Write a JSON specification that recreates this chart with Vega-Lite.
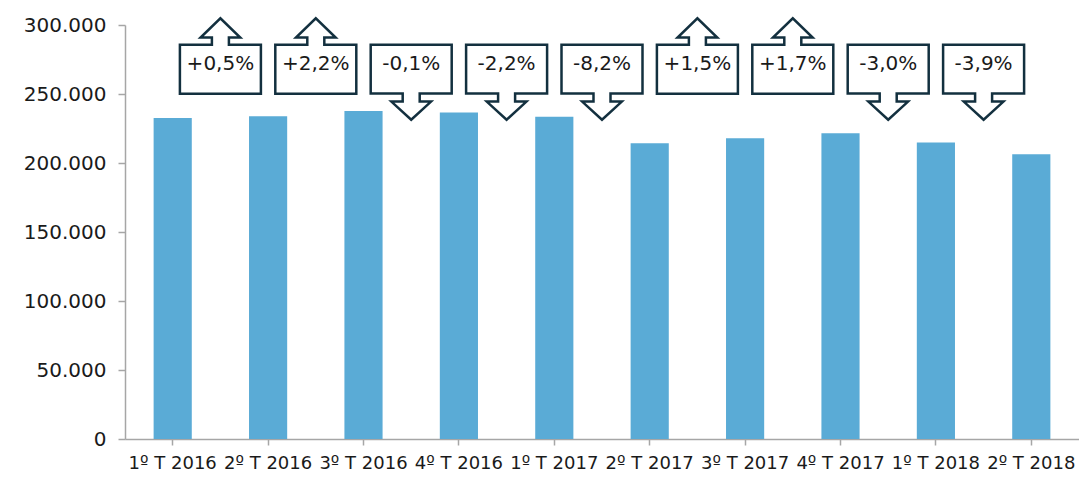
{
  "$schema": "https://vega.github.io/schema/vega-lite/v6.json",
  "width": 954,
  "height": 414,
  "padding": {"left": 125, "top": 25, "right": 0, "bottom": 63},
  "autosize": "none",
  "background": "white",
  "config": {
    "view": {"stroke": null},
    "locale": {"number": {"decimal": ",", "thousands": ".", "grouping": [3], "currency": ["", " €"]}},
    "axis": {
      "labelFont": "DejaVu Sans",
      "labelFontSize": 20,
      "labelColor": "#1a1a1a",
      "domainColor": "#a6a6a6",
      "tickColor": "#a6a6a6",
      "domainWidth": 1.5,
      "tickWidth": 1.5,
      "grid": false
    }
  },
  "datasets": {
    "bars": [
      {"quarter": "1º T 2016", "value": 232600},
      {"quarter": "2º T 2016", "value": 233900},
      {"quarter": "3º T 2016", "value": 237700},
      {"quarter": "4º T 2016", "value": 236600},
      {"quarter": "1º T 2017", "value": 233600},
      {"quarter": "2º T 2017", "value": 214300},
      {"quarter": "3º T 2017", "value": 218000},
      {"quarter": "4º T 2017", "value": 221600},
      {"quarter": "1º T 2018", "value": 214800},
      {"quarter": "2º T 2018", "value": 206400}
    ],
    "callouts": [
      {"quarter": "1º T 2016", "change": "+0,5%", "dir": "up", "level": 268000},
      {"quarter": "2º T 2016", "change": "+2,2%", "dir": "up", "level": 268000},
      {"quarter": "3º T 2016", "change": "-0,1%", "dir": "down", "level": 268000},
      {"quarter": "4º T 2016", "change": "-2,2%", "dir": "down", "level": 268000},
      {"quarter": "1º T 2017", "change": "-8,2%", "dir": "down", "level": 268000},
      {"quarter": "2º T 2017", "change": "+1,5%", "dir": "up", "level": 268000},
      {"quarter": "3º T 2017", "change": "+1,7%", "dir": "up", "level": 268000},
      {"quarter": "4º T 2017", "change": "-3,0%", "dir": "down", "level": 268000},
      {"quarter": "1º T 2018", "change": "-3,9%", "dir": "down", "level": 268000}
    ]
  },
  "layer": [
    {
      "data": {"name": "bars"},
      "mark": {"type": "bar", "color": "#5aabd6"},
      "encoding": {
        "x": {
          "field": "quarter",
          "type": "ordinal",
          "sort": null,
          "title": null,
          "scale": {"paddingInner": 0.6, "paddingOuter": 0.3},
          "axis": {"labelAngle": 0, "labelFontSize": 18, "tickSize": 6, "labelPadding": 9}
        },
        "y": {
          "field": "value",
          "type": "quantitative",
          "title": null,
          "scale": {"domain": [0, 300000], "nice": false},
          "axis": {"values": [0, 50000, 100000, 150000, 200000, 250000, 300000], "format": ",d", "tickSize": 7, "labelPadding": 12}
        }
      }
    },
    {
      "data": {"name": "callouts"},
      "transform": [{"filter": "datum.dir == 'up'"}],
      "mark": {"type": "point", "filled": true, "fill": "white", "stroke": "#13303f", "strokeWidth": 2.5, "size": 6561, "opacity": 1,
        "shape": "M-1,-0.605L-0.21,-0.605L-0.21,-0.78L-0.49,-0.78L0,-1.257L0.49,-0.78L0.21,-0.78L0.21,-0.605L1,-0.605L1,0.605L-1,0.605Z"},
      "encoding": {
        "x": {"field": "quarter", "type": "ordinal", "sort": null, "bandPosition": 1.75},
        "y": {"field": "level", "type": "quantitative"}
      }
    },
    {
      "data": {"name": "callouts"},
      "transform": [{"filter": "datum.dir == 'down'"}],
      "mark": {"type": "point", "filled": true, "fill": "white", "stroke": "#13303f", "strokeWidth": 2.5, "size": 6561, "opacity": 1,
        "shape": "M-1,-0.6L1,-0.6L1,0.6L0.21,0.6L0.21,0.8L0.49,0.8L0,1.25L-0.49,0.8L-0.21,0.8L-0.21,0.6L-1,0.6Z"},
      "encoding": {
        "x": {"field": "quarter", "type": "ordinal", "sort": null, "bandPosition": 1.75},
        "y": {"field": "level", "type": "quantitative"}
      }
    },
    {
      "data": {"name": "callouts"},
      "mark": {"type": "text", "font": "DejaVu Sans", "fontSize": 20, "color": "#1a1a1a", "baseline": "middle", "align": "center", "dy": -5},
      "encoding": {
        "x": {"field": "quarter", "type": "ordinal", "sort": null, "bandPosition": 1.75},
        "y": {"field": "level", "type": "quantitative"},
        "text": {"field": "change", "type": "nominal"}
      }
    }
  ]
}
